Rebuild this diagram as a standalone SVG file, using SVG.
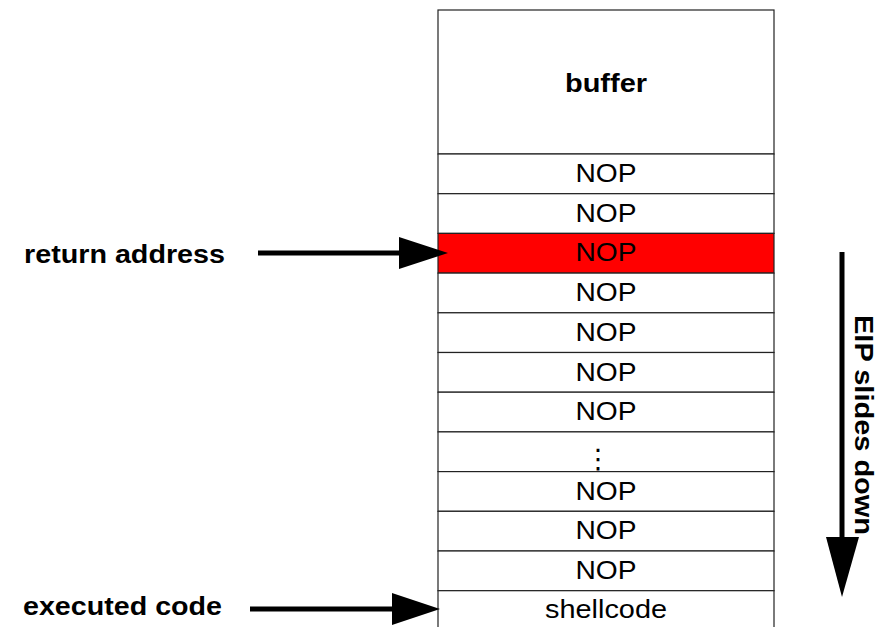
<svg xmlns="http://www.w3.org/2000/svg" width="879" height="627" viewBox="0 0 879 627">
  <style>
    .cell { fill: #ffffff; stroke: #222222; stroke-width: 1.2; }
    .nop { font-family: "Liberation Sans", Arial, sans-serif; font-size: 26px; fill: #000000; text-anchor: middle; }
    .bold { font-family: "Liberation Sans", Arial, sans-serif; font-weight: bold; font-size: 25px; fill: #000000; }
    .shaft { stroke: #000000; stroke-width: 5; fill: none; }
    .head { fill: #000000; }
  </style>

  <!-- stack frame: buffer on top, NOP sled below, shellcode at the bottom -->
  <g id="buffer">
    <rect class="cell" x="438" y="10" width="336" height="144"/>
    <text class="bold" x="606" y="92" text-anchor="middle" font-size="26" textLength="82" lengthAdjust="spacingAndGlyphs">buffer</text>
  </g>
  <g id="nop1">
    <rect class="cell" x="438" y="154" width="336" height="39.7"/>
    <text class="nop" x="606" y="182" textLength="61" lengthAdjust="spacingAndGlyphs">NOP</text>
  </g>
  <g id="nop2">
    <rect class="cell" x="438" y="193.7" width="336" height="39.7"/>
    <text class="nop" x="606" y="221.7" textLength="61" lengthAdjust="spacingAndGlyphs">NOP</text>
  </g>
  <g id="nop3">
    <rect class="cell" x="438" y="233.4" width="336" height="39.7" style="fill:#ff0000"/>
    <text class="nop" x="606" y="261.4" textLength="61" lengthAdjust="spacingAndGlyphs">NOP</text>
  </g>
  <g id="nop4">
    <rect class="cell" x="438" y="273.1" width="336" height="39.7"/>
    <text class="nop" x="606" y="301.1" textLength="61" lengthAdjust="spacingAndGlyphs">NOP</text>
  </g>
  <g id="nop5">
    <rect class="cell" x="438" y="312.8" width="336" height="39.7"/>
    <text class="nop" x="606" y="340.8" textLength="61" lengthAdjust="spacingAndGlyphs">NOP</text>
  </g>
  <g id="nop6">
    <rect class="cell" x="438" y="352.5" width="336" height="39.7"/>
    <text class="nop" x="606" y="380.5" textLength="61" lengthAdjust="spacingAndGlyphs">NOP</text>
  </g>
  <g id="nop7">
    <rect class="cell" x="438" y="392.2" width="336" height="39.7"/>
    <text class="nop" x="606" y="420.2" textLength="61" lengthAdjust="spacingAndGlyphs">NOP</text>
  </g>
  <g id="ellipsis">
    <rect class="cell" x="438" y="431.9" width="336" height="39.7"/>
    <text x="598" y="468" font-family="'DejaVu Sans', sans-serif" font-size="27" text-anchor="middle" fill="#000000">⋮</text>
  </g>
  <g id="nop8">
    <rect class="cell" x="438" y="471.6" width="336" height="39.7"/>
    <text class="nop" x="606" y="499.6" textLength="61" lengthAdjust="spacingAndGlyphs">NOP</text>
  </g>
  <g id="nop9">
    <rect class="cell" x="438" y="511.3" width="336" height="39.7"/>
    <text class="nop" x="606" y="539.3" textLength="61" lengthAdjust="spacingAndGlyphs">NOP</text>
  </g>
  <g id="nop10">
    <rect class="cell" x="438" y="551" width="336" height="39.7"/>
    <text class="nop" x="606" y="579" textLength="61" lengthAdjust="spacingAndGlyphs">NOP</text>
  </g>
  <g id="shellcode">
    <rect class="cell" x="438" y="590.7" width="336" height="45"/>
    <text class="nop" x="606" y="617.5" textLength="122" lengthAdjust="spacingAndGlyphs">shellcode</text>
  </g>

  <!-- labels on the left and the direction label on the right -->
  <g id="label-return">
    <text class="bold" x="24" y="263" textLength="201" lengthAdjust="spacingAndGlyphs">return address</text>
  </g>
  <g id="label-executed">
    <text class="bold" x="23" y="615" textLength="199" lengthAdjust="spacingAndGlyphs">executed code</text>
  </g>
  <g id="label-eip">
    <text class="bold" transform="translate(855,425) rotate(90)" text-anchor="middle" textLength="220" lengthAdjust="spacingAndGlyphs">EIP slides down</text>
  </g>

  <!-- connectors -->
  <g id="connectors">
    <line class="shaft" x1="258" y1="253" x2="402" y2="253"/>
    <polygon class="head" points="399,237 448,253 399,269"/>
    <line class="shaft" x1="250" y1="609" x2="395" y2="609"/>
    <polygon class="head" points="392,593 440,609 392,625"/>
    <line class="shaft" x1="842" y1="252" x2="842" y2="540"/>
    <polygon class="head" points="826,537 859,537 842,597"/>
  </g>
</svg>
